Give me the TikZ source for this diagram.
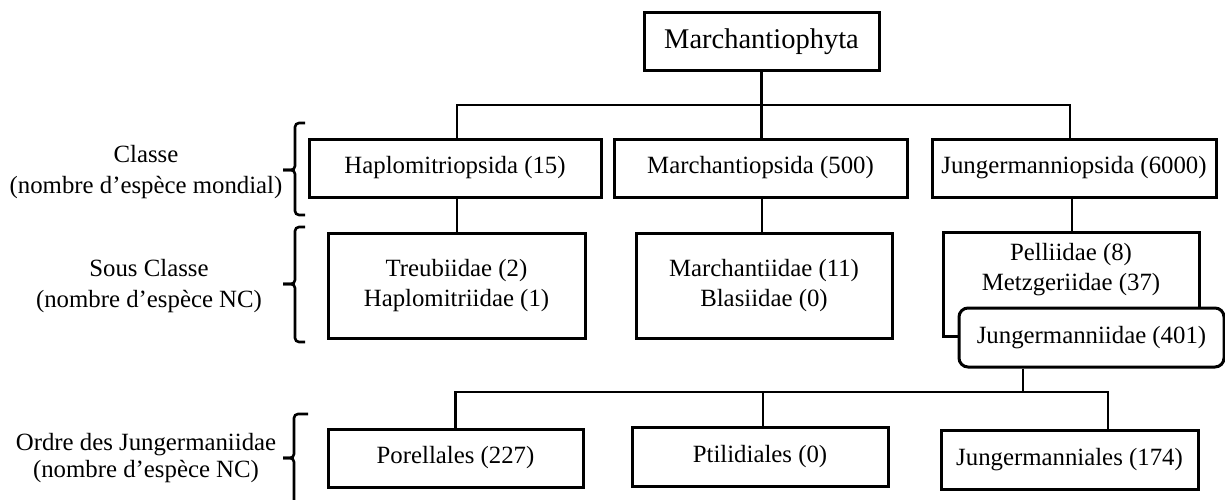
\documentclass[tikz,border=0pt]{standalone}
\usepackage{fontspec}
\setmainfont{Liberation Serif}
\newcommand\fsz{\fontsize{24.8}{30}\selectfont}
\newcommand\fszt{\fontsize{28.5}{32}\selectfont}
\tikzset{
  box/.style={draw, line width=3pt, inner sep=0pt, align=center, font=\fsz, fill=white},
  wide/.style={minimum height=58pt},
  conn/.style={line width=2.8pt},
  lbl/.style={align=center, font=\fsz, inner sep=0pt},
  brc/.style={line width=2.6pt, rounded corners=4pt}
}
\begin{document}
\begin{tikzpicture}[x=1pt,y=-1pt]
\useasboundingbox (0,0) rectangle (1225,500);
% level 0
\node[box, font=\fszt, minimum width=235pt, minimum height=58pt] (mp) at (761.5,42) {Marchantiophyta};
% level 1
\node[box, wide, minimum width=292pt] (haplo) at (455,168) {Haplomitriopsida (15)};
\node[box, wide, minimum width=293pt] (marchO) at (760.5,168) {Marchantiopsida (500)};
\node[box, wide, minimum width=284pt] (jungO) at (1074,168) {Jungermanniopsida (6000)};
% level 2
\node[box, minimum width=257pt, minimum height=105pt] (treub) at (456.5,285.5) {Treubiidae (2)\\Haplomitriidae (1)};
\node[box, minimum width=256pt, minimum height=105pt] (marchI) at (764,285.5) {Marchantiidae (11)\\Blasiidae (0)};
\node[box, minimum width=256pt, minimum height=104pt] (pell) at (1071,284) {};
\node[lbl] (pellT) at (1071,270) {Pelliidae (8)\\Metzgeriidae (37)};
\node[box, rounded corners=9pt, minimum width=265pt, minimum height=59pt] (jungI) at (1091.5,337.5) {Jungermanniidae (401)};
% level 3
\node[box, wide, minimum width=255pt] (porel) at (455.5,458) {Porellales (227)};
\node[box, wide, minimum width=256pt, minimum height=59pt] (ptil) at (760,456.5) {Ptilidiales (0)};
\node[box, wide, minimum width=257pt, minimum height=59pt] (jungales) at (1069.5,459.5) {Jungermanniales (174)};
% connectors
\coordinate (bar1) at (0,105);
\coordinate (bar2) at (0,392);
\draw[conn] (mp.south) -- (mp.south |- marchO.north);
\draw[conn] ([xshift=2pt]haplo.north) -- ([xshift=2pt]haplo.north |- bar1) -- ([xshift=-4pt]jungO.north |- bar1) -- ([xshift=-4pt]jungO.north);
\draw[conn] ([xshift=2pt]haplo.south) -- ([xshift=2pt]haplo.south |- treub.north);
\draw[conn] ([xshift=1.5pt]marchO.south) -- ([xshift=1.5pt]marchO.south |- marchI.north);
\draw[conn] ([xshift=-2pt]jungO.south) -- ([xshift=-2pt]jungO.south |- pell.north);
\draw[conn] ([xshift=-68.5pt]jungI.south) -- ([xshift=-68.5pt]jungI.south |- bar2);
\draw[conn] (porel.north) -- (porel.north |- bar2) -- ([xshift=38.5pt]jungales.north |- bar2) -- ([xshift=38.5pt]jungales.north);
\draw[conn] ([xshift=3pt]ptil.north) -- ([xshift=3pt]ptil.north |- bar2);
% braces
\draw[brc] (305,123) -- (295,123) -- (295,170) -- (283,170);
\draw[brc] (283,170) -- (295,170) -- (295,215) -- (305,215);
\draw[brc] (305,227) -- (295,227) -- (295,284) -- (283,284);
\draw[brc] (283,284) -- (295,284) -- (295,342) -- (305,342);
\draw[brc] (308,414) -- (294,414) -- (294,458) -- (283,458);
\draw[brc] (283,458) -- (294,458) -- (294,506);
% labels
\node[lbl] (lclasse) at (146,172.5) {Classe\\[1pt](nombre d’espèce mondial)};
\node[lbl] (lsous) at (149,286.5) {Sous Classe\\[1pt](nombre d’espèce NC)};
\node[lbl, font=\fontsize{24.8}{27}\selectfont] (lordre) at (146,458.5) {Ordre des Jungermaniidae\\(nombre d’espèce NC)};
\end{tikzpicture}
\end{document}
